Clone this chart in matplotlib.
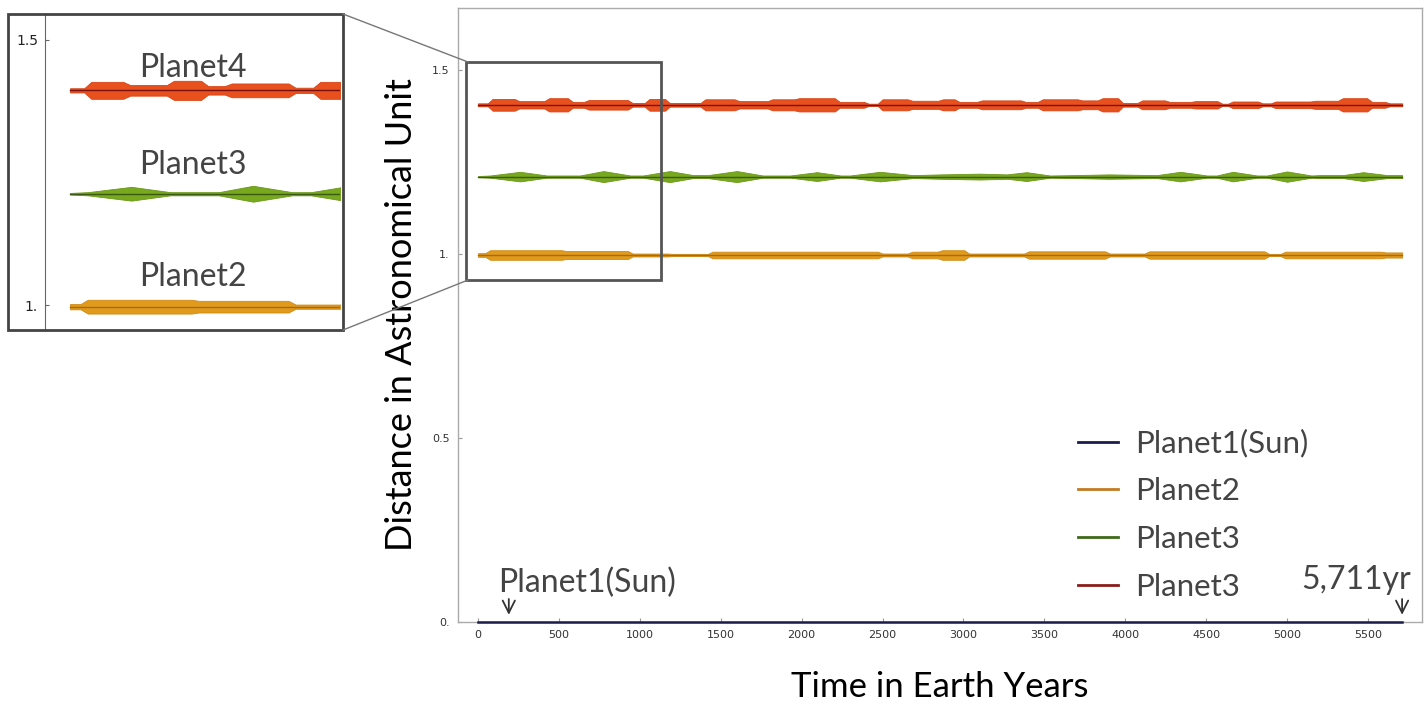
import numpy as np
import matplotlib.pyplot as plt
from matplotlib.patches import Rectangle
from matplotlib.lines import Line2D

# data (years, AU)
t_end = 5711
sun_dist = 0.0
p2_dist = 0.997
p3_dist = 1.21
p4_dist = 1.405

# envelope half widths in AU, segment start years
p4_years = [0, 75, 240, 425, 570, 670, 940, 1045, 1170, 1390, 1600, 1805, 1970, 2220, 2400, 2485, 2670,
            2860, 2960, 3100, 3370, 3475, 3720, 3845, 3970, 4090, 4260, 4420, 4585, 4650, 4835, 4915,
            5160, 5330, 5510, 5620]
p4_width = [0.004, 0.016, 0.010, 0.018, 0.008, 0.013, 0.005, 0.016, 0.005, 0.015, 0.010, 0.015, 0.018,
            0.008, 0.003, 0.015, 0.011, 0.015, 0.008, 0.012, 0.008, 0.015, 0.012, 0.018, 0.005, 0.012,
            0.008, 0.010, 0.003, 0.009, 0.004, 0.009, 0.011, 0.018, 0.008, 0.004]

# planet3 envelope knots (spindle shapes)
p3_years = [0, 75, 260, 425, 630, 775, 940, 1020, 1185, 1330, 1420, 1600, 1760, 1930, 2095, 2240, 2300,
            2485, 2690, 2860, 3100, 3270, 3390, 3535, 3680, 3900, 4195, 4340, 4505, 4565, 4665, 4815,
            4875, 5000, 5150, 5200, 5345, 5470, 5620, 5711]
p3_width = [0.0015, 0.003, 0.013, 0.003, 0.003, 0.015, 0.003, 0.003, 0.015, 0.004, 0.004, 0.015, 0.003,
            0.003, 0.012, 0.003, 0.003, 0.013, 0.004, 0.006, 0.008, 0.006, 0.012, 0.003, 0.004, 0.006,
            0.004, 0.013, 0.003, 0.003, 0.013, 0.003, 0.003, 0.014, 0.003, 0.004, 0.004, 0.012, 0.004,
            0.004]

p2_years = [0, 60, 530, 940, 1185, 1435, 2485, 2670, 2855, 3020, 3390, 3890, 4135, 4875, 4975, 5595]
p2_width = [0.005, 0.013, 0.011, 0.004, 0.003, 0.009, 0.004, 0.009, 0.013, 0.004, 0.010, 0.004, 0.010,
            0.003, 0.009, 0.007]

legend_labels = ['Planet1(Sun)', 'Planet2', 'Planet3', 'Planet3']
legend_colors = ['#1c1c4c', '#c47a22', '#3f6a1a', '#8b1c1c']

x_ticks = list(range(0, 5501, 500))
y_ticks = [0, 0.5, 1.0, 1.5]
y_ticklabels = ['0.', '0.5', '1.', '1.5']


def blocks(starts, widths):
    # each segment becomes a flat block with short ramps at its ends
    ends = starts[1:] + [t_end]
    xs, ws = [], []
    for s, e, w in zip(starts, ends, widths):
        r = min(15, (e - s) / 4)
        xs += [s + r, e - r]
        ws += [w, w]
    xs[0], xs[-1] = starts[0], t_end
    return np.array(xs), np.array(ws)


def draw_series(ax):
    # planet1 (sun) sits on the axis
    ax.plot([0, t_end], [sun_dist, sun_dist], color='#1c1c4c', lw=1.8, zorder=5, clip_on=False)

    yrs, w = blocks(p2_years, p2_width)
    ax.fill_between(yrs, p2_dist - w, p2_dist + w, color='#e09a1c', lw=0.6, ec='#d08a14')
    ax.plot([0, t_end], [p2_dist, p2_dist], color='#a86a10', lw=1)

    yrs, w = np.array(p3_years), np.array(p3_width)
    ax.fill_between(yrs, p3_dist - w, p3_dist + w, color='#78a81e', lw=0.6, ec='#6a9818')
    ax.plot([0, t_end], [p3_dist, p3_dist], color='#3a5a12', lw=1)

    yrs, w = blocks(p4_years, p4_width)
    ax.fill_between(yrs, p4_dist - w, p4_dist + w, color='#e8501e', lw=0.6, ec='#d84416')
    ax.plot([0, t_end], [p4_dist, p4_dist], color='#7a1010', lw=1)


W, H = 1428, 711
fig = plt.figure(figsize=(W / 100, H / 100), dpi=100)
font = ['Lato', 'DejaVu Sans']

# main chart
ax = fig.add_axes([458 / W, 1 - 622 / H, (1422 - 458) / W, (622 - 8) / H])
draw_series(ax)
ax.set_xlim(-124, 5834)
ax.set_ylim(0, 1.668)
ax.set_xticks(x_ticks)
ax.set_yticks(y_ticks)
ax.set_yticklabels(y_ticklabels)
ax.tick_params(direction='in', length=3, color='#999999', labelsize=8, labelcolor='#333333', pad=6)
for s in ax.spines.values():
    s.set_color('#aaaaaa')
    s.set_linewidth(1)

ax.set_ylabel('Distance in Astronomical Unit', fontsize=26, family=font, labelpad=10)
ax.set_xlabel('Time in Earth Years', fontsize=25, family=font, labelpad=22)

# zoom box on main chart
ax.add_patch(Rectangle((-75, 0.929), 1208, 0.593, fill=False, ec='#555555', lw=2, zorder=6))

# annotations
arrow = dict(arrowstyle='->', color='#333333', lw=1.3, mutation_scale=22)
ax.annotate('', xy=(190, 0.012), xytext=(190, 0.07), arrowprops=arrow)
ax.text(124, 0.082, 'Planet1(Sun)', fontsize=23, family=font, color='#444444')
ax.annotate('', xy=(t_end, 0.012), xytext=(t_end, 0.07), arrowprops=arrow)
ax.text(5765, 0.09, '5,711yr', fontsize=23, family=font, color='#444444', ha='right')

handles = [Line2D([0], [0], color=c, lw=2) for c in legend_colors]
leg = fig.legend(handles, legend_labels, loc='upper left', bbox_to_anchor=(1078 / W, 1 - 429 / H),
                 frameon=False, prop={'family': font, 'size': 22.5}, handlelength=1.28,
                 handletextpad=0.55, labelspacing=0.63, borderpad=0, borderaxespad=0)
for txt in leg.get_texts():
    txt.set_color('#444444')

# inset (magnified view)
ins = fig.add_axes([45 / W, 1 - 330 / H, (340 - 45) / W, (330 - 14) / H])
draw_series(ins)
ins.set_xlim(-106, 1143)
ins.set_ylim(0.953, 1.549)
ins.set_xticks([])
ins.set_yticks([1.0, 1.5])
ins.set_yticklabels(['1.', '1.5'])
ins.tick_params(axis='y', direction='in', length=3, color='#666666', labelsize=10, labelcolor='#222222', pad=5)
for k in ['top', 'right', 'bottom']:
    ins.spines[k].set_visible(False)
ins.spines['left'].set_color('#666666')
ins.patch.set_alpha(0)
ins.text(520, 1.447, 'Planet4', fontsize=23, family=font, color='#444444', ha='center', va='center')
ins.text(520, 1.264, 'Planet3', fontsize=23, family=font, color='#444444', ha='center', va='center')
ins.text(520, 1.053, 'Planet2', fontsize=23, family=font, color='#444444', ha='center', va='center')

fig.patches.append(Rectangle((8 / W, 1 - 330 / H), 335 / W, 316 / H, transform=fig.transFigure,
                             fill=False, ec='#444444', lw=2))
# connector lines from inset to zoom box
fig.add_artist(Line2D([343 / W, 468 / W], [1 - 14 / H, 1 - 62 / H], transform=fig.transFigure,
                      color='#777777', lw=1))
fig.add_artist(Line2D([343 / W, 468 / W], [1 - 330 / H, 1 - 280 / H], transform=fig.transFigure,
                      color='#777777', lw=1))

fig.savefig('out.png', dpi=100)
